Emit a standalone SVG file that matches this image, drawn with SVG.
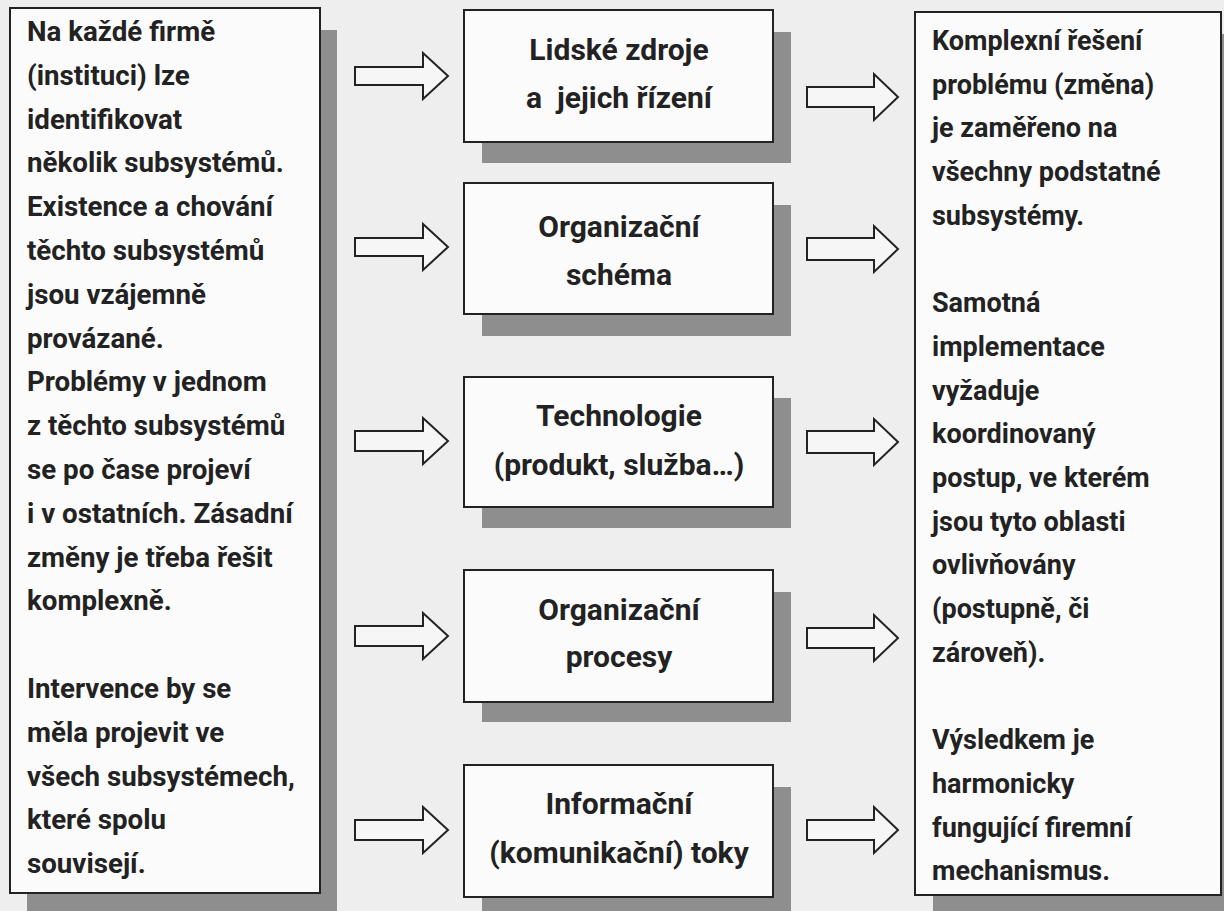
<svg xmlns="http://www.w3.org/2000/svg" width="1224" height="911" viewBox="0 0 1224 911">
<style>
.bg{fill:#eeeeee}
.shadow{fill:#8e8e8e}
.box{fill:#fbfbfb;stroke:#222;stroke-width:2}
.arrow{fill:#f6f6f6;stroke:#222;stroke-width:2;stroke-linejoin:miter}
.t{font-family:Roboto,"Liberation Sans",Arial,sans-serif;font-weight:bold;font-size:27px;fill:#222}
.tl{font-size:27.7px}
.m{font-family:Roboto,"Liberation Sans",Arial,sans-serif;font-weight:bold;font-size:30px;fill:#222;text-anchor:middle}
</style>
<rect class="bg" x="0" y="0" width="1224" height="911"/>

<g id="left-box">
<rect class="shadow" x="27" y="30" width="310" height="890"/>
<rect class="box" x="10" y="8" width="310" height="885"/>
<text class="t tl" x="27" y="41">
<tspan x="27">Na každé firmě</tspan>
<tspan x="27" dy="43.8">(instituci) lze</tspan>
<tspan x="27" dy="43.8">identifikovat</tspan>
<tspan x="27" dy="43.8">několik subsystémů.</tspan>
<tspan x="27" dy="43.8">Existence a chování</tspan>
<tspan x="27" dy="43.8">těchto subsystémů</tspan>
<tspan x="27" dy="43.8">jsou vzájemně</tspan>
<tspan x="27" dy="43.8">provázané.</tspan>
<tspan x="27" dy="43.8">Problémy v jednom</tspan>
<tspan x="27" dy="43.8">z těchto subsystémů</tspan>
<tspan x="27" dy="43.8">se po čase projeví</tspan>
<tspan x="27" dy="43.8">i v ostatních. Zásadní</tspan>
<tspan x="27" dy="43.8">změny je třeba řešit</tspan>
<tspan x="27" dy="43.8">komplexně.</tspan>
<tspan x="27" dy="87.6">Intervence by se</tspan>
<tspan x="27" dy="43.8">měla projevit ve</tspan>
<tspan x="27" dy="43.8">všech subsystémech,</tspan>
<tspan x="27" dy="43.8">které spolu</tspan>
<tspan x="27" dy="43.8">souvisejí.</tspan>
</text>
</g>

<g id="node-lidske-zdroje">
<rect class="shadow" x="482" y="32" width="309" height="131"/>
<rect class="box" x="464" y="10" width="309" height="132"/>
<text class="m" x="619" y="60">Lidské zdroje</text>
<text class="m" x="619" y="108" xml:space="preserve">a  jejich řízení</text>
</g>

<g id="node-organizacni-schema">
<rect class="shadow" x="482" y="205" width="309" height="131"/>
<rect class="box" x="464" y="183" width="309" height="131"/>
<text class="m" x="619" y="237">Organizační</text>
<text class="m" x="619" y="285">schéma</text>
</g>

<g id="node-technologie">
<rect class="shadow" x="482" y="398" width="309" height="130"/>
<rect class="box" x="464" y="377" width="309" height="130"/>
<text class="m" x="619" y="426">Technologie</text>
<text class="m" x="619" y="475">(produkt, služba…)</text>
</g>

<g id="node-organizacni-procesy">
<rect class="shadow" x="482" y="592" width="309" height="130"/>
<rect class="box" x="464" y="570" width="309" height="132"/>
<text class="m" x="619" y="620">Organizační</text>
<text class="m" x="619" y="667">procesy</text>
</g>

<g id="node-informacni-toky">
<rect class="shadow" x="482" y="787" width="309" height="130"/>
<rect class="box" x="464" y="765" width="309" height="132"/>
<text class="m" x="619" y="814">Informační</text>
<text class="m" x="619" y="863">(komunikační) toky</text>
</g>

<g id="right-box">
<rect class="shadow" x="933" y="34" width="310" height="885"/>
<rect class="box" x="915" y="12" width="306" height="883"/>
<text class="t" x="932" y="50">
<tspan x="932">Komplexní řešení</tspan>
<tspan x="932" dy="43.7">problému (změna)</tspan>
<tspan x="932" dy="43.7">je zaměřeno na</tspan>
<tspan x="932" dy="43.7">všechny podstatné</tspan>
<tspan x="932" dy="43.7">subsystémy.</tspan>
<tspan x="932" dy="87.4">Samotná</tspan>
<tspan x="932" dy="43.7">implementace</tspan>
<tspan x="932" dy="43.7">vyžaduje</tspan>
<tspan x="932" dy="43.7">koordinovaný</tspan>
<tspan x="932" dy="43.7">postup, ve kterém</tspan>
<tspan x="932" dy="43.7">jsou tyto oblasti</tspan>
<tspan x="932" dy="43.7">ovlivňovány</tspan>
<tspan x="932" dy="43.7">(postupně, či</tspan>
<tspan x="932" dy="43.7">zároveň).</tspan>
<tspan x="932" dy="87.4">Výsledkem je</tspan>
<tspan x="932" dy="43.7">harmonicky</tspan>
<tspan x="932" dy="43.7">fungující firemní</tspan>
<tspan x="932" dy="43.7">mechanismus.</tspan>
</text>
</g>

<g id="connectors">
<polygon class="arrow" points="355,67 423,67 423,53 448,76 423,99 423,85 355,85"/>
<polygon class="arrow" points="355,238 423,238 423,224 448,247 423,270 423,256 355,256"/>
<polygon class="arrow" points="355,431 423,431 423,418 448,441 423,464 423,451 355,451"/>
<polygon class="arrow" points="355,626 423,626 423,613 448,636 423,659 423,646 355,646"/>
<polygon class="arrow" points="355,820 423,820 423,807 448,830 423,853 423,840 355,840"/>
<polygon class="arrow" points="807,87 874,87 874,74 898,97 874,120 874,107 807,107"/>
<polygon class="arrow" points="807,238 874,238 874,226 898,249 874,272 874,260 807,260"/>
<polygon class="arrow" points="807,431 874,431 874,419 898,442 874,465 874,453 807,453"/>
<polygon class="arrow" points="807,628 874,628 874,615 898,638 874,661 874,648 807,648"/>
<polygon class="arrow" points="807,820 874,820 874,807 898,830 874,853 874,840 807,840"/>
</g>
</svg>
